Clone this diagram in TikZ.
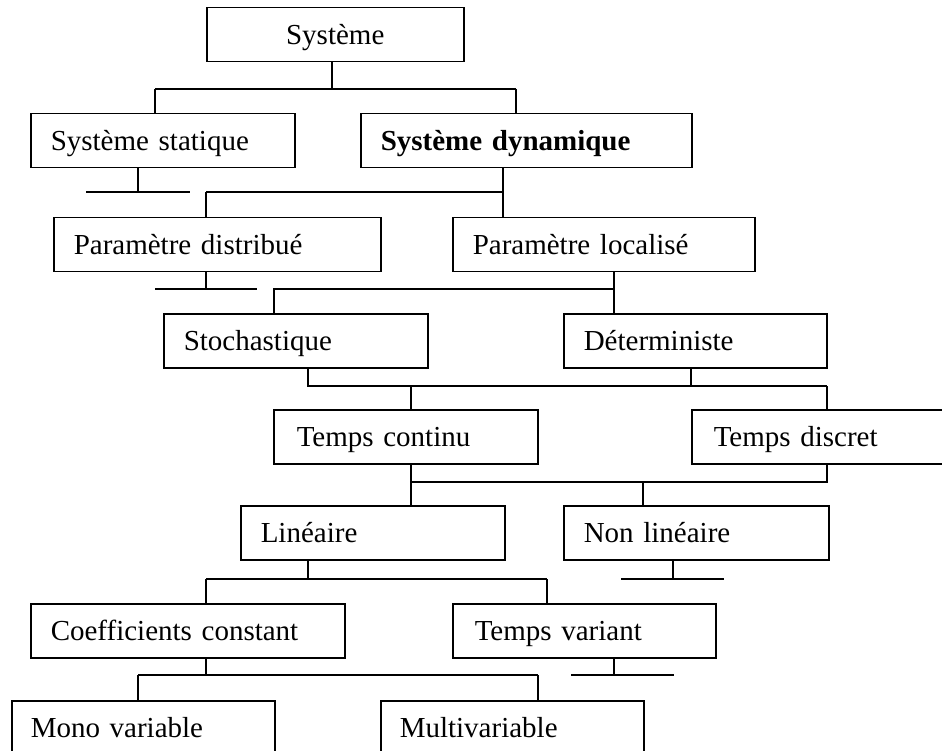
\documentclass[tikz,border=0pt]{standalone}
\usepackage{fontspec}
\setmainfont{Liberation Serif}
\usetikzlibrary{calc}
\begin{document}
\begin{tikzpicture}[x=1pt,y=-1pt,
  line width=1.5pt,
  box/.style={draw,line width=1.5pt,rectangle,anchor=north west,inner ysep=0pt,inner xsep=20pt,
    minimum height=54pt,align=left,text height=22pt,text depth=2pt,
    font=\fontsize{29}{34}\selectfont},
  conn/.style={line width=1.5pt}]
\useasboundingbox (0,0) rectangle (942,751);
% boxes: text width = width - 40
\node[box,align=center,text width=217pt] (sys) at (206,7) {Système};
\node[box,text width=224pt] (stat) at (30,113) {Système statique};
\node[box,text width=291pt] (dyn) at (360,113) {\textbf{Système dynamique}};
\node[box,text width=287pt] (pdist) at (53,217) {Paramètre distribué};
\node[box,text width=262pt] (ploc) at (452,217) {Paramètre localisé};
\node[box,text width=224pt] (stoch) at (163,313) {Stochastique};
\node[box,text width=223pt] (det) at (563,313) {Déterministe};
\node[box,text width=224pt,inner xsep=23pt,text width=218pt] (tc) at (273,409) {Temps continu};
\node[box,text width=229pt,inner xsep=22pt,text width=225pt] (td) at (691,409) {Temps discret};
\node[box,text width=224pt] (lin) at (240,505) {Linéaire};
\node[box,text width=225pt] (nl) at (563,505) {Non linéaire};
\node[box,text width=274pt] (coef) at (30,603) {Coefficients constant};
\node[box,inner xsep=22pt,text width=219pt] (tv) at (452,603) {Temps variant};
\node[box,inner xsep=19pt,text width=225pt] (mono) at (11,700) {Mono variable};
\node[box,inner xsep=19pt,text width=225pt] (multi) at (380,700) {Multivariable};
% junction coordinates
\coordinate (a0) at (332,89); \coordinate (aL) at (155,89); \coordinate (aR) at (516,89);
\coordinate (s0) at (138,192); \coordinate (sL) at (86,192); \coordinate (sR) at (190,192);
\coordinate (b0) at (503,192); \coordinate (bL) at (206,192);
\coordinate (p0) at (206,289); \coordinate (pL) at (155,289); \coordinate (pR) at (257,289);
\coordinate (c0) at (614,289); \coordinate (cL) at (274,289);
\coordinate (d1) at (308,386); \coordinate (d2) at (691,386); \coordinate (dL) at (411,386); \coordinate (dR) at (827,386);
\coordinate (e1) at (411,482); \coordinate (e2) at (827,482); \coordinate (eM) at (643,482);
\coordinate (n0) at (673,579); \coordinate (nL) at (621,579); \coordinate (nR) at (724,579);
\coordinate (f0) at (308,579); \coordinate (fL) at (206,579); \coordinate (fR) at (547,579);
\coordinate (t0) at (614,675); \coordinate (tL) at (571,675); \coordinate (tR) at (674,675);
\coordinate (g0) at (206,675); \coordinate (gL) at (138,675); \coordinate (gR) at (538,675);
% connectors
\draw[conn] (sys.south -| a0) -- (a0);
\draw[conn] (aL) -- (aR);
\draw[conn] (aL) -- (aL |- stat.north);
\draw[conn] (aR) -- (aR |- dyn.north);
\draw[conn] (stat.south -| s0) -- (s0);
\draw[conn] (sL) -- (sR);
\draw[conn] (dyn.south -| b0) -- (b0) -- (bL);
\draw[conn] (bL) -- (bL |- pdist.north);
\draw[conn] (b0) -- (b0 |- ploc.north);
\draw[conn] (pdist.south -| p0) -- (p0);
\draw[conn] (pL) -- (pR);
\draw[conn] (ploc.south -| c0) -- (c0 |- det.north);
\draw[conn] (c0) -- (cL) -- (cL |- stoch.north);
\draw[conn] (stoch.south -| d1) -- (d1) -- (dR);
\draw[conn] (det.south -| d2) -- (d2);
\draw[conn] (dL) -- (dL |- tc.north);
\draw[conn] (dR) -- (dR |- td.north);
\draw[conn] (tc.south -| e1) -- (e1 |- lin.north);
\draw[conn] (td.south -| e2) -- (e2) -- (e1);
\draw[conn] (eM) -- (eM |- nl.north);
\draw[conn] (nl.south -| n0) -- (n0);
\draw[conn] (nL) -- (nR);
\draw[conn] (lin.south -| f0) -- (f0);
\draw[conn] (fL) -- (fR);
\draw[conn] (fL) -- (fL |- coef.north);
\draw[conn] (fR) -- (fR |- tv.north);
\draw[conn] (tv.south -| t0) -- (t0);
\draw[conn] (tL) -- (tR);
\draw[conn] (coef.south -| g0) -- (g0);
\draw[conn] (gL) -- (gR);
\draw[conn] (gL) -- (gL |- mono.north);
\draw[conn] (gR) -- (gR |- multi.north);
\end{tikzpicture}
\end{document}
